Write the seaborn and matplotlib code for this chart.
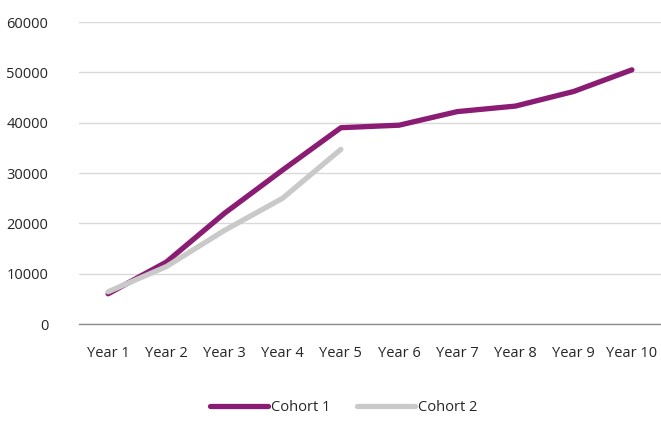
import matplotlib
matplotlib.use("Agg")
import matplotlib.pyplot as plt
import seaborn as sns
import pandas as pd

years = ["Year 1", "Year 2", "Year 3", "Year 4", "Year 5",
         "Year 6", "Year 7", "Year 8", "Year 9", "Year 10"]
cohort1 = [6000, 12300, 22000, 30600, 39000, 39500, 42200, 43300, 46200, 50500]
cohort2 = [6400, 11400, 18600, 25000, 34700]

df = pd.concat([
    pd.DataFrame({"Year": years, "Value": cohort1, "Cohort": "Cohort 1"}),
    pd.DataFrame({"Year": years[:len(cohort2)], "Value": cohort2, "Cohort": "Cohort 2"}),
])

sns.set_style("white")
plt.rcParams["font.family"] = ["Open Sans", "DejaVu Sans"]

fig = plt.figure(figsize=(6.61, 4.21), dpi=100)
ax = fig.add_axes([0.1195, 0.2304, 0.8805, 0.7173])

palette = {"Cohort 1": "#8B1C74", "Cohort 2": "#C9C9C9"}
sns.lineplot(data=df, x="Year", y="Value", hue="Cohort", palette=palette,
             linewidth=3.8, sort=False, ax=ax, legend=False,
             solid_capstyle="round")

ax.set_xlim(-0.5, 9.5)
ax.set_ylim(0, 60000)
ax.set_yticks(range(0, 60001, 10000))
ax.yaxis.grid(True, color="#D9D9D9", linewidth=1)
ax.set_axisbelow(True)
for s in ["top", "right", "left"]:
    ax.spines[s].set_visible(False)
ax.spines["bottom"].set_color("#8C8C8C")
ax.spines["bottom"].set_linewidth(1)
ax.tick_params(axis="both", length=0, labelsize=10.5, colors="#262626")
ax.tick_params(axis="x", pad=16)
ax.tick_params(axis="y", pad=22)
ax.set_xlabel("")
ax.set_ylabel("")

handles = [plt.Line2D([], [], color=palette[c], linewidth=3.8, solid_capstyle="round")
           for c in ["Cohort 1", "Cohort 2"]]
fig.legend(handles, ["Cohort 1", "Cohort 2"], loc="center",
           bbox_to_anchor=(0.52, 0.031), ncol=2, frameon=False,
           fontsize=10.5, handlelength=4, handletextpad=0.2, columnspacing=1.8)

fig.savefig("out.png", dpi=100)
